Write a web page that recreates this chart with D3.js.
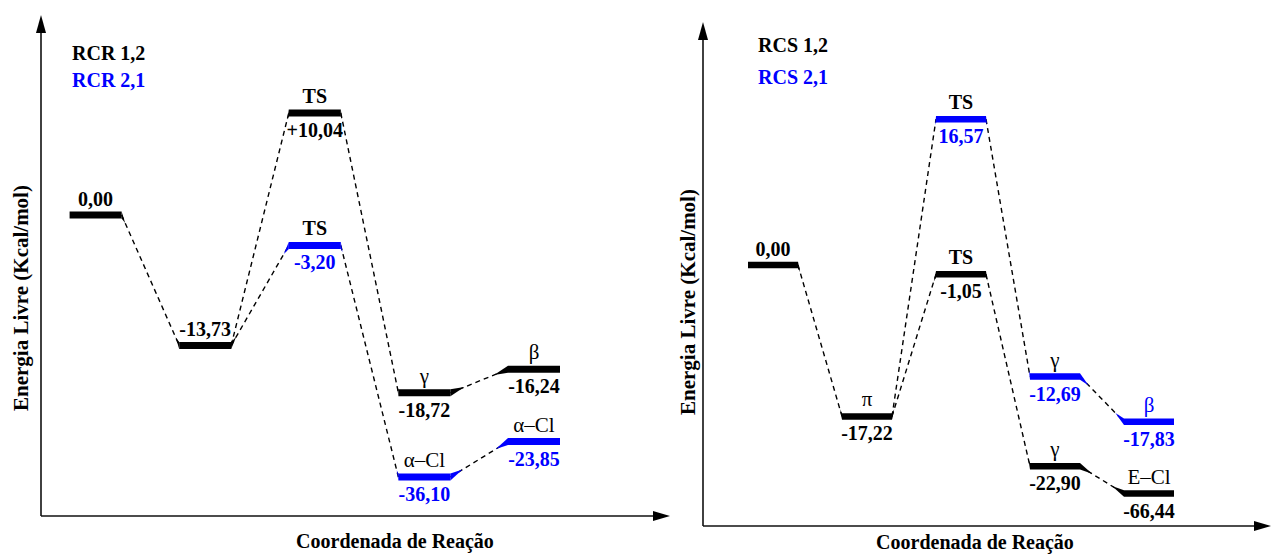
<!DOCTYPE html>
<html><head><meta charset="utf-8">
<script src="https://cdn.jsdelivr.net/npm/d3@7"></script>
<style>
body{margin:0;background:#fff}
svg{display:block}
text{font-family:"Liberation Serif","Times New Roman",serif}
</style>
</head><body>
<svg id="chart" width="1272" height="554"></svg>
<script>
// ---------------- data ----------------
const steps = [0, 1, 2, 3, 4];               // position along the reaction coordinate
const sharedStates = 2;                       // first two states are common to both pathways

const rcr12Energy = [0.00, -13.73, 10.04, -18.72, -16.24];
const rcr12Name   = ["", "", "TS", "γ", "β"];
const rcr21Energy = [0.00, -13.73, -3.20, -36.10, -23.85];
const rcr21Name   = ["", "", "TS", "α–Cl", "α–Cl"];

const rcs12Energy = [0.00, -17.22, -1.05, -22.90, -66.44];
const rcs12Name   = ["", "π", "TS", "γ", "E–Cl"];
const rcs21Energy = [0.00, -17.22, 16.57, -12.69, -17.83];
const rcs21Name   = ["", "π", "TS", "γ", "β"];

const legendRCR = ["RCR 1,2", "RCR 2,1"];
const legendRCS = ["RCS 1,2", "RCS 2,1"];
const xTitle = "Coordenada de Reação";
const yTitle = "Energia Livre (Kcal/mol)";

// ---------------- styles / layout ----------------
const BLACK = "#000000", BLUE = "#0000ff";
const locale = d3.formatLocale({decimal: ",", thousands: ".", grouping: [3], currency: ["", ""], minus: "-"});
const fmt = locale.format(".2f");

const panels = [
  {
    series: [
      {energy: rcr12Energy, name: rcr12Name, color: BLACK, label: legendRCR[0]},
      {energy: rcr21Energy, name: rcr21Name, color: BLUE,  label: legendRCR[1], nameColored: []}
    ],
    x: d3.scaleLinear().domain([0, 4]).range([95.6, 534]),
    y: d3.scaleLinear().domain([-40, -24, 0, 12]).range([488, 443, 215, 93]),
    ox: 41, oy: 516, top: 15, right: 670,
    barW: 52, barT: 7, plus: true,
    legendX: 72, legendY: [60, 87],
    yTitleX: 28, yTitleY: 298, xTitleX: 395, xTitleY: 548
  },
  {
    series: [
      {energy: rcs12Energy, name: rcs12Name, color: BLACK, label: legendRCS[0]},
      {energy: rcs21Energy, name: rcs21Name, color: BLUE,  label: legendRCS[1], nameColored: ["β"]}
    ],
    x: d3.scaleLinear().domain([0, 4]).range([773, 1149]),
    y: d3.scaleLinear().domain([-70, -24, 0, 18]).range([495, 476, 265, 106.6]),
    ox: 703, oy: 526, top: 22, right: 1271,
    barW: 50, barT: 6.5, plus: false,
    legendX: 758, legendY: [52, 84],
    yTitleX: 695, yTitleY: 302, xTitleX: 975, xTitleY: 549
  }
];

const svg = d3.select("#chart");
const isGreekName = s => s !== "TS";

panels.forEach(p => {
  const g = svg.append("g");
  const {x, y} = p;

  // axes with arrowheads
  g.append("line").attr("x1", p.ox).attr("y1", p.oy).attr("x2", p.ox).attr("y2", p.top + 14)
    .attr("stroke", "#111").attr("stroke-width", 1.6);
  g.append("line").attr("x1", p.ox).attr("y1", p.oy).attr("x2", p.right - 14).attr("y2", p.oy)
    .attr("stroke", "#111").attr("stroke-width", 1.6);
  g.append("path").attr("d", `M${p.ox},${p.top} L${p.ox - 5},${p.top + 18} L${p.ox + 5},${p.top + 18} Z`).attr("fill", "#000");
  g.append("path").attr("d", `M${p.right},${p.oy} L${p.right - 17},${p.oy - 5} L${p.right - 17},${p.oy + 5} Z`).attr("fill", "#000");

  // axis titles
  g.append("text").attr("x", p.xTitleX).attr("y", p.xTitleY).attr("text-anchor", "middle")
    .attr("font-size", 20).attr("font-weight", "bold").attr("fill", "#000").text(xTitle);
  g.append("text").attr("transform", `translate(${p.yTitleX},${p.yTitleY}) rotate(-90)`).attr("text-anchor", "middle")
    .attr("font-size", 21).attr("font-weight", "bold").attr("fill", "#000").text(yTitle);

  // legend
  p.series.forEach((s, i) => {
    g.append("text").attr("x", p.legendX).attr("y", p.legendY[i])
      .attr("font-size", 20).attr("font-weight", "bold").attr("fill", s.color).text(s.label);
  });

  // collect states
  const states = [];
  p.series.forEach((s, si) => {
    steps.forEach((st, i) => {
      if (si > 0 && i < sharedStates) return;
      states.push({step: st, e: s.energy[i], name: s.name[i], color: s.color,
                   nameColor: (s.nameColored && s.nameColored.includes(s.name[i])) ? s.color : BLACK});
    });
  });

  // connectors
  const conns = [];
  p.series.forEach((s, si) => {
    for (let i = 1; i < steps.length; i++) {
      if (si > 0 && i < sharedStates) continue;
      const fromColor = (si > 0 && i - 1 < sharedStates) ? p.series[0].color : s.color;
      conns.push({
        x1: x(steps[i - 1]) + p.barW / 2, y1: y(s.energy[i - 1]), c1: fromColor,
        x2: x(steps[i]) - p.barW / 2,     y2: y(s.energy[i]),     c2: s.color
      });
    }
  });

  g.selectAll(".conn").data(conns).join("line").attr("class", "conn")
    .attr("x1", d => d.x1).attr("y1", d => d.y1).attr("x2", d => d.x2).attr("y2", d => d.y2)
    .attr("stroke", "#000").attr("stroke-width", 1.4).attr("stroke-dasharray", "5,4");

  // tapered joins where connectors meet the levels
  const wedge = (xe, ye, xo, yo, color) => {
    const dx = xo - xe, dy = yo - ye, len = Math.hypot(dx, dy);
    const ux = dx / len, uy = dy / len;
    const L = 4 + 12 * Math.abs(ux);
    const t = p.barT / 2;
    g.append("path").attr("d", `M${xe},${ye - t} L${xe + ux * L},${ye + uy * L} L${xe},${ye + t} Z`).attr("fill", color);
  };
  conns.forEach(d => {
    wedge(d.x1, d.y1, d.x2, d.y2, d.c1);
    wedge(d.x2, d.y2, d.x1, d.y1, d.c2);
  });

  // levels
  g.selectAll(".lvl").data(states).join("line").attr("class", "lvl")
    .attr("x1", d => x(d.step) - p.barW / 2).attr("x2", d => x(d.step) + p.barW / 2)
    .attr("y1", d => y(d.e)).attr("y2", d => y(d.e))
    .attr("stroke", d => d.color).attr("stroke-width", p.barT);

  // labels
  const valText = v => (p.plus && v > 0 ? "+" : "") + fmt(v);
  states.forEach(d => {
    const cx = x(d.step), cy = y(d.e);
    if (d.name) {
      const greek = isGreekName(d.name);
      g.append("text").attr("x", cx).attr("y", cy - 10).attr("text-anchor", "middle")
        .attr("font-size", greek ? 21 : 20).attr("font-weight", greek ? "normal" : "bold")
        .attr("fill", d.nameColor).text(d.name);
      g.append("text").attr("x", cx).attr("y", cy + 24).attr("text-anchor", "middle")
        .attr("font-size", 20).attr("font-weight", "bold").attr("fill", d.color).text(valText(d.e));
    } else {
      g.append("text").attr("x", cx).attr("y", cy - 9).attr("text-anchor", "middle")
        .attr("font-size", 20).attr("font-weight", "bold").attr("fill", d.color).text(valText(d.e));
    }
  });
});
</script>
</body></html>
